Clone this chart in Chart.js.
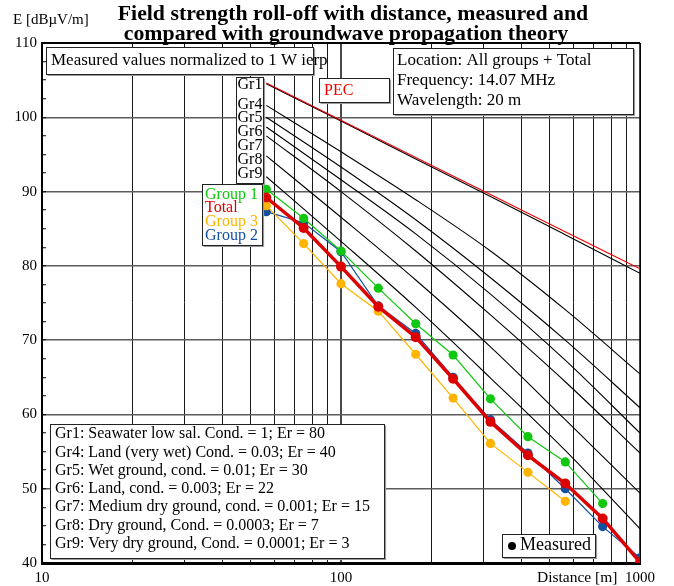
<!DOCTYPE html>
<html>
<head>
<meta charset="utf-8">
<title>Field strength roll-off with distance</title>
<script src="https://cdn.jsdelivr.net/npm/chart.js@4.4.1/dist/chart.umd.min.js"></script>
<style>
  html, body { margin: 0; padding: 0; background: #ffffff; }
  canvas { display: block; }
</style>
</head>
<body>
<canvas id="chart" width="674" height="586"></canvas>
<script>
// Measurement distances in metres
const distances = [56.25, 75, 100, 133.3, 177.8, 237.1, 316.1, 421.9, 562.5, 750, 1000];

// Measured field strength (dBµV/m), normalized to 1 W ierp
const group1 = [90.3, 86.4, 82.0, 77.0, 72.2, 68.0, 62.1, 57.0, 53.6, 48.0];
const total  = [89.2, 85.1, 79.9, 74.5, 70.4, 64.8, 59.0, 54.5, 50.7, 46.0, 40.1];
const group3 = [88.1, 83.0, 77.6, 73.9, 68.1, 62.2, 56.1, 52.2, 48.3];
const group2 = [87.3, 85.8, 81.9, 74.6, 70.9, 65.0, 59.3, 54.8, 50.0, 44.9, 40.7];

// Groundwave propagation theory curves
const theoryDistances = [56.25, 100, 177.8, 316.2, 562.3, 1000];
const pec = [104.6, 99.6, 94.6, 89.6, 84.6, 79.6];
const gr1 = [104.5, 99.5, 94.4, 89.35, 84.2, 79.0];
const gr4 = [101.6, 95.35, 88.9, 82.0, 74.1, 65.45];
const gr5 = [100.0, 93.3, 86.2, 78.4, 70.0, 60.9];
const gr6 = [98.7, 91.6, 84.3, 76.2, 67.3, 57.5];
const gr7 = [97.5, 90.0, 82.0, 73.4, 64.4, 54.8];
const gr8 = [94.8, 86.55, 78.1, 69.1, 59.3, 49.4];
const gr9 = [92.0, 83.3, 74.4, 64.9, 55.15, 44.6];

// Axes
const xGridValues = [10, 20, 30, 40, 50, 60, 70, 80, 90, 100, 200, 300, 400, 500, 600, 700, 800, 900, 1000];
const xLabelValues = [10, 100, 1000];
const yRange = [40, 110];
const yLabelStep = 10;
const yTickStep = 2.5;

// Texts
const titleLines = ['Field strength roll-off with distance, measured and',
                    'compared with groundwave propagation theory'];
const yAxisTitle = 'E [dB\u00b5V/m]';
const xAxisTitle = 'Distance [m]';
const noteText = 'Measured values normalized to 1 W ierp';
const infoLines = ['Location: All groups + Total', 'Frequency: 14.07 MHz', 'Wavelength: 20 m'];
const curveLabels = ['Gr1', 'Gr4', 'Gr5', 'Gr6', 'Gr7', 'Gr8', 'Gr9'];
const groundDescriptions = [
  'Gr1: Seawater low sal. Cond. = 1; Er = 80',
  'Gr4: Land (very wet) Cond. = 0.03; Er = 40',
  'Gr5: Wet ground, cond. = 0.01; Er = 30',
  'Gr6: Land, cond. = 0.003; Er = 22',
  'Gr7: Medium dry ground, cond. = 0.001; Er = 15',
  'Gr8: Dry ground, Cond. = 0.0003; Er = 7',
  'Gr9: Very dry ground, Cond. = 0.0001; Er = 3'
];
const seriesNames = ['Group 1', 'Total', 'Group 3', 'Group 2'];
const markerLegend = 'Measured';
const pecLabel = 'PEC';

const COLORS = {
  'Group 1': '#10c810',
  'Total': '#dd0000',
  'Group 3': '#ffb400',
  'Group 2': '#1450a0'
};
const SERIF = '"Liberation Serif", "Times New Roman", serif';

function toPoints(xs, ys) {
  return ys.map((y, i) => ({ x: xs[i], y: y }));
}

function theoryCurve(values, color) {
  return {
    data: toPoints(theoryDistances, values),
    showLine: true, borderColor: color, borderWidth: 1.1,
    pointRadius: 0, pointHoverRadius: 0,
    cubicInterpolationMode: 'monotone', order: 10
  };
}

function measuredSeries(name, values, width, radius, order) {
  return {
    label: name,
    data: toPoints(distances, values),
    showLine: true, borderColor: COLORS[name], backgroundColor: COLORS[name],
    borderWidth: width, pointRadius: radius, pointBorderWidth: 0,
    pointBackgroundColor: COLORS[name], tension: 0, order: order
  };
}

const datasets = [
  theoryCurve(pec, '#ee0000'),
  theoryCurve(gr1, '#000000'),
  theoryCurve(gr4, '#000000'),
  theoryCurve(gr5, '#000000'),
  theoryCurve(gr6, '#000000'),
  theoryCurve(gr7, '#000000'),
  theoryCurve(gr8, '#000000'),
  theoryCurve(gr9, '#000000'),
  measuredSeries('Group 2', group2, 1.2, 4.6, 4),
  measuredSeries('Group 3', group3, 1.2, 4.6, 3),
  measuredSeries('Group 1', group1, 1.2, 4.6, 2),
  measuredSeries('Total', total, 3.5, 5, 1)
];

function drawBox(ctx, x, y, w, h) {
  ctx.save();
  ctx.fillStyle = '#ffffff';
  ctx.fillRect(x, y, w, h);
  ctx.strokeStyle = '#9a9a9a';
  ctx.lineWidth = 1.2;
  ctx.beginPath();
  ctx.moveTo(x + w + 1.5, y + 1.5);
  ctx.lineTo(x + w + 1.5, y + h + 1.5);
  ctx.lineTo(x + 1.5, y + h + 1.5);
  ctx.stroke();
  ctx.strokeStyle = '#222222';
  ctx.lineWidth = 1;
  ctx.strokeRect(x + 0.5, y + 0.5, w, h);
  ctx.restore();
}

function drawText(ctx, text, x, y, size, color, align, weight) {
  ctx.save();
  ctx.font = (weight || 'normal') + ' ' + size + 'px ' + SERIF;
  ctx.fillStyle = color || '#000';
  ctx.textAlign = align || 'left';
  ctx.textBaseline = 'middle';
  ctx.fillText(text, x, y);
  ctx.restore();
}

const decorations = {
  id: 'decorations',
  beforeDatasetsDraw(chart) {
    const { ctx, chartArea: a } = chart;
    ctx.save();
    ctx.strokeStyle = '#000';
    ctx.lineWidth = 2;
    ctx.beginPath();
    ctx.moveTo(a.left, a.top);
    ctx.lineTo(a.right, a.top);
    ctx.stroke();
    ctx.lineWidth = 1.5;
    ctx.beginPath();
    ctx.moveTo(a.right, a.top);
    ctx.lineTo(a.right, a.bottom);
    ctx.stroke();
    ctx.restore();
  },
  afterDatasetsDraw(chart) {
    const ctx = chart.ctx;

    // Title and axis captions
    drawText(ctx, titleLines[0], 353, 14, 21.8, '#000', 'center', 'bold');
    drawText(ctx, titleLines[1], 346, 34, 21.8, '#000', 'center', 'bold');
    drawText(ctx, yAxisTitle, 13, 20, 15, '#000', 'left');
    drawText(ctx, xAxisTitle, 537, 578, 15.5, '#000', 'left');

    // Normalization note
    drawBox(ctx, 46, 47, 267, 27);
    drawText(ctx, noteText, 51, 61, 17, '#000', 'left');

    // Location / frequency box
    drawBox(ctx, 393, 48, 240, 66);
    infoLines.forEach((t, i) => drawText(ctx, t, 397, 61 + i * 20, 17, '#000', 'left'));

    // PEC label
    drawBox(ctx, 319, 78, 70, 24);
    drawText(ctx, pecLabel, 324, 90.5, 16, '#ee0000', 'left');

    // Curve labels
    drawBox(ctx, 236, 77, 27, 106);
    const curveY = [85, 104.3, 117.7, 131.7, 146, 159.3, 173.3];
    curveLabels.forEach((t, i) => drawText(ctx, t, 237.5, curveY[i], 16, '#000', 'left'));

    // Series names
    drawBox(ctx, 202, 184, 60, 61);
    seriesNames.forEach((t, i) => drawText(ctx, t, 205, 194.5 + i * 13.7, 16, COLORS[t], 'left'));

    // Ground descriptions
    drawBox(ctx, 50, 424, 334, 134);
    groundDescriptions.forEach((t, i) => drawText(ctx, t, 55, 434 + i * 18.3, 16, '#000', 'left'));

    // Marker legend
    drawBox(ctx, 502, 534, 93, 23);
    ctx.save();
    ctx.fillStyle = '#000';
    ctx.beginPath();
    ctx.arc(512, 546, 4, 0, Math.PI * 2);
    ctx.fill();
    ctx.restore();
    drawText(ctx, markerLegend, 520, 545.5, 18, '#000', 'left');
  }
};

new Chart(document.getElementById('chart'), {
  type: 'scatter',
  data: { datasets: datasets },
  options: {
    responsive: false,
    animation: false,
    devicePixelRatio: 1,
    layout: { autoPadding: false, padding: { top: 43, right: 34, bottom: 0, left: 0 } },
    plugins: { legend: { display: false }, title: { display: false }, tooltip: { enabled: false } },
    events: [],
    scales: {
      x: {
        type: 'logarithmic',
        position: 'bottom',
        min: 10, max: 1000,
        afterBuildTicks: (scale) => { scale.ticks = xGridValues.map(v => ({ value: v })); },
        afterFit: (scale) => { scale.height = 23; },
        ticks: {
          autoSkip: false, maxRotation: 0, padding: 6,
          color: '#000', font: { family: SERIF, size: 15 },
          callback: (v) => xLabelValues.includes(v) ? String(v) : ''
        },
        grid: {
          drawTicks: false,
          color: (c) => (c.tick && c.tick.value === 100) ? '#4a4a4a' : '#1a1a1a',
          lineWidth: (c) => (c.tick && c.tick.value === 100) ? 2 : 1
        },
        border: { display: true, color: '#000', width: 3 }
      },
      y: {
        type: 'linear',
        position: 'left',
        min: yRange[0], max: yRange[1],
        afterBuildTicks: (scale) => {
          const t = [];
          for (let v = yRange[0]; v <= yRange[1] + 1e-9; v += yTickStep) t.push({ value: v });
          scale.ticks = t;
        },
        afterFit: (scale) => { scale.width = 42; },
        ticks: {
          autoSkip: false, padding: 9,
          color: '#000', font: { family: SERIF, size: 15 },
          callback: (v) => (Math.abs(v % yLabelStep) < 1e-9) ? String(v) : ''
        },
        grid: {
          drawTicks: true, tickLength: -4, tickColor: '#000', tickWidth: 1,
          color: (c) => (c.tick && Math.abs(c.tick.value % yLabelStep) < 1e-9) ? '#5c5c5c' : 'rgba(0,0,0,0)',
          lineWidth: 1.5
        },
        border: { display: true, color: '#000', width: 2 }
      }
    }
  },
  plugins: [decorations]
});
</script>
</body>
</html>
